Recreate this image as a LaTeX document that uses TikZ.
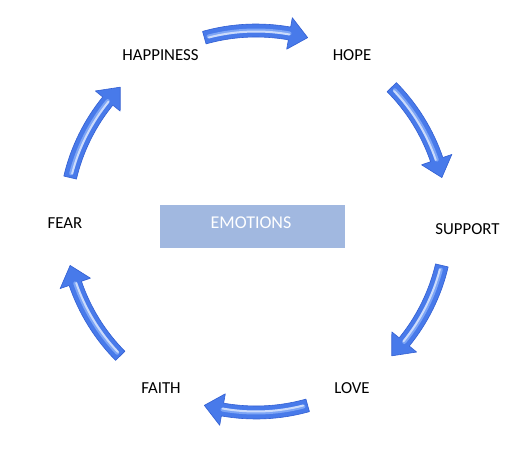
\documentclass[tikz,border=0pt]{standalone}
\usepackage{fontspec}
\setmainfont{Carlito}
\definecolor{arrblue}{RGB}{72,122,234}
\definecolor{arredge}{RGB}{50,95,210}
\definecolor{arrlight}{RGB}{125,165,245}
\definecolor{boxblue}{RGB}{161,184,224}
\tikzset{
  lbl/.style={font=\fontsize{16.8}{19}\selectfont, text=black, inner sep=0pt},
  arrbody/.style={fill=arrblue, draw=arredge, line width=0.6pt, line join=round},
  arrhi/.style={draw=white, opacity=0.6, line width=2pt, line cap=round},
  arrhi2/.style={draw=arrlight, line width=4pt, line cap=round},
}
\newcommand\cycarrow[2]{%
  \pgfmathsetmacro\hb{#2+5.6}%
  \pgfmathsetmacro\ta{#1-1.3}%
  \begin{scope}[shift={(ctr)}]
  \path[arrbody] (#1:197.5) arc[start angle=#1, end angle=\hb, radius=197.5]
     -- (\hb:207) -- (#2:191) -- (\hb:175) -- (\hb:184.5)
     arc[start angle=\hb, end angle=#1, radius=184.5] -- cycle;
  \draw[arrhi2] (\ta:191) arc[start angle=\ta, end angle=\hb, radius=191];
  \draw[arrhi] (\ta:190) arc[start angle=\ta, end angle=\hb, radius=190];
  \end{scope}}
\begin{document}
\begin{tikzpicture}[x=1pt,y=1pt]
\path[fill=white] (0,0) rectangle (515,451);
\useasboundingbox (0,0) rectangle (515,451);
\coordinate (ctr) at (256,229.5);
\cycarrow{105.7}{74.3}
\cycarrow{44.7}{13.3}
\cycarrow{-13.3}{-44.7}
\cycarrow{-74.3}{-105.7}
\cycarrow{-135.3}{-166.7}
\cycarrow{166.7}{135.3}
\node[lbl] (happiness) at (160.5,395.5) {HAPPINESS};
\node[lbl] (hope) at (352,395.5) {HOPE};
\node[lbl] (support) at (467.5,221.5) {SUPPORT};
\node[lbl] (love) at (352,63) {LOVE};
\node[lbl] (faith) at (161,63) {FAITH};
\node[lbl] (fear) at (65,228) {FEAR};
\path[fill=boxblue] (160,202.7) rectangle (345,246);
\node[lbl, text=white, font=\fontsize{18}{21}\selectfont] (emotions) at (251,228) {EMOTIONS};
\end{tikzpicture}
\end{document}
